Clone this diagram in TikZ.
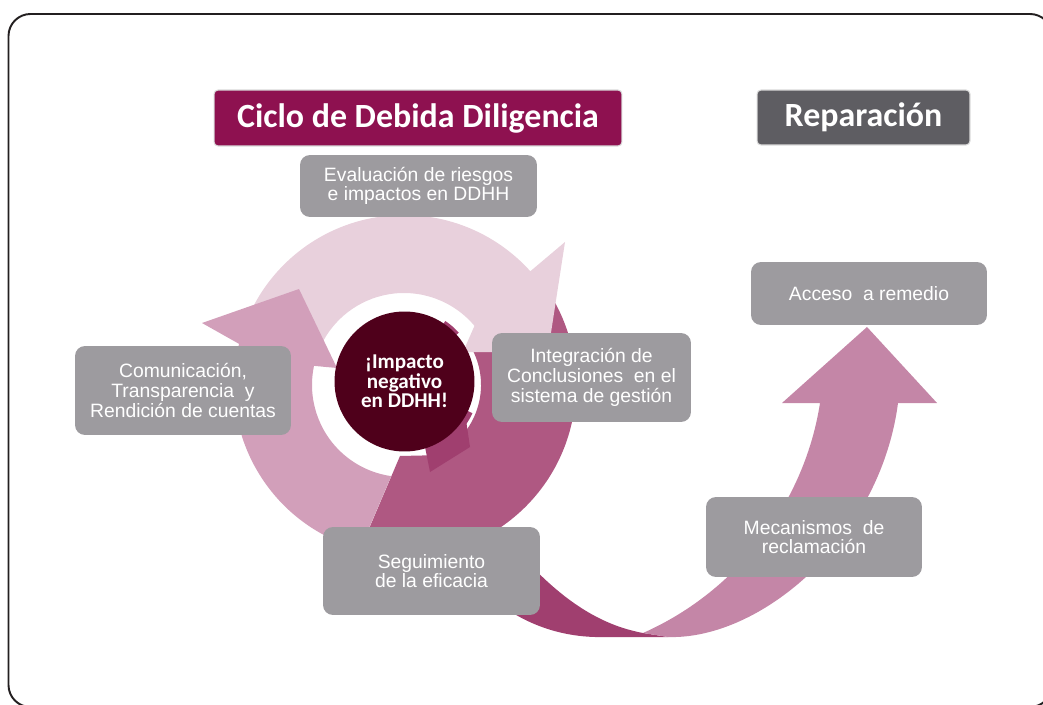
\documentclass[tikz,border=0pt]{standalone}
\usepackage{fontspec}
\setmainfont{Liberation Sans}
\newfontfamily\titlefont{Carlito}
\usetikzlibrary{positioning,calc}

\definecolor{frameline}{HTML}{231F20}
\definecolor{ddmagenta}{HTML}{8E1150}
\definecolor{repgray}{HTML}{5E5D62}
\definecolor{boxgray}{HTML}{9D9B9F}
\definecolor{impactored}{HTML}{4F001B}
\definecolor{cyclelight}{HTML}{E8D0DC}
\definecolor{cyclemid}{HTML}{D29FBA}
\definecolor{cycledark}{HTML}{AF5882}
\definecolor{cycledeep}{HTML}{A03F6F}
\definecolor{remedypink}{HTML}{C486A7}

\begin{document}
\begin{tikzpicture}[x=0.02cm,y=-0.02cm]
\tikzstyle{stagebox} = [fill=boxgray, rounded corners=0.2cm, text=white, align=center, inner sep=0pt, font=\fontsize{11}{11.2}\selectfont]
\tikzstyle{titlebox} = [draw=black!15, line width=0.6pt, rounded corners=0.08cm, text=white, inner sep=0pt, font=\titlefont\bfseries\fontsize{19.3}{22}\selectfont]
\useasboundingbox (0,0) rectangle (1043,705);
\draw[frameline, line width=1.1pt, rounded corners=0.44cm] (8.5,14) rectangle (1052,707);

\coordinate (C) at (404,385);
\coordinate (O) at (404.5,381.5);

% cycle
\fill[cycledark] ($(C)+(-40:172)$) arc[start angle=-40,end angle=100,radius=172] -- (345,585) -- (400,456) -- (444,455)
  -- ($(C)+(60:77)$) arc[start angle=60,end angle=-30,radius=77] -- cycle;
\fill[cyclelight] ($(C)+(205:170)$) arc[start angle=205,end angle=318,radius=170] -- (565,242) -- (548,352) -- (463,352)
  -- ($(C)+(320:92)$) arc[start angle=320,end angle=205,radius=92] -- cycle;
\fill[cyclemid] ($(C)+(105:170)$) arc[start angle=105,end angle=194,radius=170] -- (202,323) -- (299,289) -- (337,368)
  -- ($(C)+(192:92)$) arc[start angle=192,end angle=98,radius=92] -- cycle;
\fill[cycledeep] (O) -- ($(O)+(-56:73)$) arc[start angle=-56,end angle=-42,radius=73] -- cycle;
\fill[cycledeep] (O) -- ($(O)+(25:75)$) arc[start angle=25,end angle=65,radius=75] -- cycle;
\fill[cycledeep] (425,447) -- (430,472) -- (470,447) -- (466,420) -- cycle;

% reparacion
\fill[cycledeep] (515,548) .. controls (560,600) and (600,625) .. (643,633) -- (668,637) -- (595,637)
  .. controls (560,636) and (530,625) .. (505,608) -- cycle;
\fill[remedypink] (643,633) .. controls (740,590) and (805,500) .. (820,403) -- (782,403) -- (867,327) -- (937,403)
  -- (898,403) .. controls (880,540) and (760,640) .. (668,637) -- cycle;

\node[circle, fill=impactored, minimum size=2.8cm, inner sep=0pt, text=white, align=center,
  font=\titlefont\bfseries\fontsize{12}{11}\selectfont] (impacto) at (O) {¡Impacto\\negativo\\en DDHH!};

\node[stagebox, minimum width=4.74cm, minimum height=1.24cm] (evaluacion) at (418.5,186) {Evaluación de riesgos\\e impactos en DDHH};
\node[stagebox, minimum width=4.32cm, minimum height=1.78cm] (comunicacion) at (183,390.5) {Comunicación,\\Transparencia~ y\\Rendición de cuentas};
\node[stagebox, minimum width=3.98cm, minimum height=1.78cm] (integracion) at (591.5,377.5) {Integración de\\Conclusiones~ en el\\sistema de gestión};
\node[stagebox, minimum width=4.34cm, minimum height=1.76cm] (seguimiento) at (431.5,571) {Seguimiento\\de la eficacia};
\node[stagebox, minimum width=4.72cm, minimum height=1.26cm] (acceso) at (869,293.5) {Acceso~ a remedio};
\node[stagebox, minimum width=4.32cm, minimum height=1.60cm] (mecanismos) at (814,537) {Mecanismos~ de\\reclamación};

\node[titlebox, fill=ddmagenta, minimum width=8.16cm, minimum height=1.12cm] (ciclo) at (418,118) {Ciclo de Debida Diligencia};
\node[titlebox, fill=repgray, minimum width=4.26cm, minimum height=1.10cm] (reparacion) at (863.5,117.5) {Reparación};
\end{tikzpicture}
\end{document}
